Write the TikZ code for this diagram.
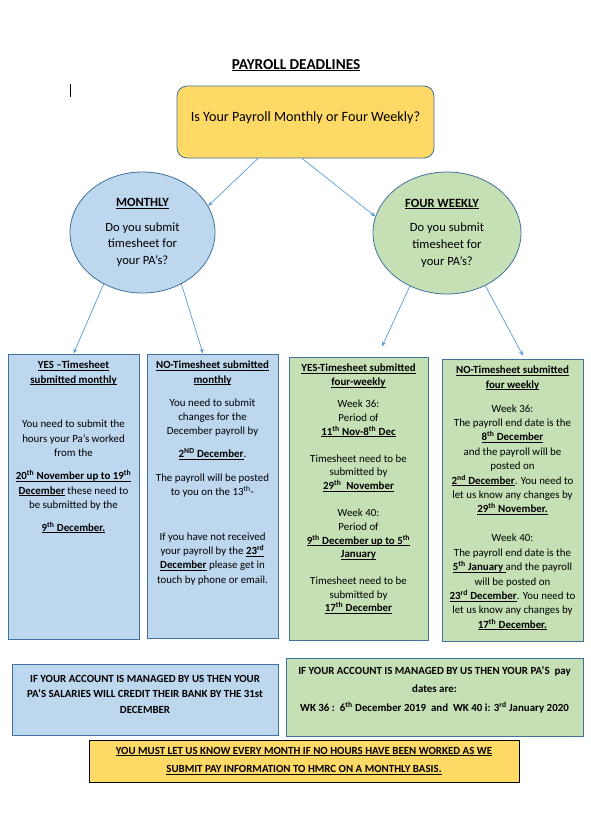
\documentclass[tikz,border=0pt]{standalone}
\usepackage{fontspec}
\setmainfont{Carlito}
\usetikzlibrary{positioning,shapes.geometric,arrows.meta,calc}
\definecolor{qyellow}{HTML}{FFD966}
\definecolor{mblue}{HTML}{BDD7EE}
\definecolor{wgreen}{HTML}{C5E0B4}
\definecolor{edgeblue}{HTML}{41719C}
\definecolor{arrowblue}{HTML}{5B9BD5}
\newcommand{\uln}[1]{\leavevmode\setbox0\hbox{#1}\rlap{\rule[-1.7pt]{\wd0}{0.65pt}}\box0}
\newcommand{\ubf}[1]{\textbf{\uln{#1}}}
\newcommand{\supt}[1]{\textsuperscript{#1}}

\begin{document}
\begin{tikzpicture}[x=1pt,y=-1pt]
	\tikzset{
		box/.style={draw=edgeblue, line width=0.8pt, inner sep=0pt},
		boxtxt/.style={anchor=north, align=center, inner sep=0pt, font=\fontsize{10.9}{14.4}\selectfont},
		bubble/.style={box, ellipse, align=center, font=\fontsize{12.6}{16.7}\selectfont},
		conn/.style={draw=arrowblue, line width=0.7pt, -{Stealth[length=5pt,width=4pt]}}
	}
	\useasboundingbox[fill=white] (0,0) rectangle (590,817);

	% --- Título y pregunta ---
	\node[inner sep=0pt, font=\fontsize{15.2}{18}\selectfont] (title) at (296,65) {\ubf{PAYROLL DEADLINES}};
	\draw[line width=1pt] (70,84) -- (70,97);
	\node[box, fill=qyellow, rounded corners=10pt, minimum width=257, minimum height=72] (question) at (305.5,122) {};
	\node[inner sep=0pt, font=\fontsize{14.2}{17}\selectfont] (questiontxt) at (305.5,118) {Is Your Payroll Monthly or Four Weekly?};

	% --- Elipses ---
	\node[bubble, fill=mblue, minimum width=145, minimum height=121] (monthly) at (142.5,232.5)
		{\ubf{MONTHLY}\\[8pt] Do you submit\\ timesheet for\\ your PA’s?};
	\node[bubble, fill=wgreen, minimum width=148, minimum height=122] (fourweekly) at (447,233)
		{\ubf{FOUR WEEKLY}\hspace*{10pt}\\[8pt] Do you submit\\ timesheet for\\ your PA’s?};

	% --- Cajas ---
	\node[box, fill=mblue, minimum width=131, minimum height=285] (yesmonth) at (73.5,496.5) {};
	\node[box, fill=mblue, minimum width=131, minimum height=284] (nomonth) at (212.5,496) {};
	\node[box, fill=wgreen, minimum width=139, minimum height=283] (yesfour) at (358.5,498.5) {};
	\node[box, fill=wgreen, minimum width=141, minimum height=282] (nofour) at (512.5,500) {};

	\node[boxtxt] (yesmonthtxt) at (73.5,361) {%
		\ubf{YES –Timesheet}\\
		\ubf{submitted monthly}\\[30pt]
		You need to submit the\\
		hours your Pa’s worked\\
		from the\\[9pt]
		\ubf{20\supt{th} November up to 19\supt{th}}\\
		\ubf{December} these need to\\
		be submitted by the\\[8pt]
		\ubf{9\supt{th} December.}};
	\node[boxtxt] (nomonthtxt) at (212.5,361) {%
		\ubf{NO-Timesheet submitted}\\
		\ubf{monthly}\\[8.5pt]
		You need to submit\\
		changes for the\\
		December payroll by\\[8.5pt]
		\ubf{2\supt{ND} December}.\\[9pt]
		The payroll will be posted\\
		to you on the 13\supt{th}-\\[30pt]
		If you have not received\\
		your payroll by the \ubf{23\supt{rd}}\\
		\ubf{December} please get in\\
		touch by phone or email.};
	\node[boxtxt, font=\fontsize{10.9}{13.8}\selectfont] (yesfourtxt) at (358.5,364) {%
		\ubf{YES-Timesheet submitted}\\
		\ubf{four-weekly}\\[8.3pt]
		Week 36:\\
		Period of\hspace*{21pt}\\
		\ubf{11\supt{th} Nov-8\supt{th} Dec}\\[13pt]
		Timesheet need to be\\
		submitted by\\
		\ubf{29\supt{th}\ \ November}\\[13pt]
		Week 40:\\
		Period of\hspace*{21pt}\\
		\ubf{9\supt{th} December up to 5\supt{th}}\\
		\ubf{January}\\[12.5pt]
		Timesheet need to be\\
		submitted by\\
		\ubf{17\supt{th} December}};
	\node[boxtxt] (nofourtxt) at (512.5,366) {%
		\ubf{NO-Timesheet submitted}\\
		\ubf{four weekly}\\[9.5pt]
		Week 36:\\
		The payroll end date is the\\
		\ubf{8\supt{th} December}\\
		and the payroll will be\\
		posted on\\
		\ubf{2\supt{nd} December}. You need to\\
		let us know any changes by\\
		\ubf{29\supt{th} November.}\\[14.6pt]
		Week 40:\\
		The payroll end date is the\\
		\ubf{5\supt{th} January }and the payroll\\
		will be posted on\\
		\ubf{23\supt{rd} December}. You need to\\
		let us know any changes by\\
		\ubf{17\supt{th} December.}};

	% --- Notas inferiores ---
	\node[box, fill=mblue, minimum width=266, minimum height=71] (salaries) at (145,699.5) {};
	\node[boxtxt, font=\bfseries\fontsize{10.9}{15.5}\selectfont] (salariestxt) at (145,675) {%
		IF YOUR ACCOUNT IS MANAGED BY US THEN YOUR\\
		PA’S SALARIES WILL CREDIT THEIR BANK BY THE 31st\\
		DECEMBER};
	\node[box, fill=wgreen, minimum width=297, minimum height=78] (paydates) at (434.5,697) {};
	\node[boxtxt, font=\bfseries\fontsize{10.9}{18}\selectfont] (paydatestxt) at (434.5,666) {%
		IF YOUR ACCOUNT IS MANAGED BY US THEN YOUR PA’S\ \ pay\\
		dates are:\\[1pt]
		WK 36 :\ \ 6\supt{th} December 2019\ \ and\ \ WK 40 i: 3\supt{rd} January 2020};
	\node[draw=black, line width=0.9pt, fill=qyellow, inner sep=0pt, minimum width=430, minimum height=42] (hmrc) at (304,761) {};
	\node[boxtxt, font=\fontsize{10.9}{18.3}\selectfont] (hmrctxt) at (304,747) {%
		\ubf{YOU MUST LET US KNOW EVERY MONTH IF NO HOURS HAVE BEEN WORKED AS WE}\\
		\ubf{SUBMIT PAY INFORMATION TO HMRC ON A MONTHLY BASIS.}};

	% --- Flechas ---
	\draw[conn] ($(question.south)+(-47.5,0)$) -- (monthly.22);
	\draw[conn] ($(question.south)+(-3.5,0)$) -- (fourweekly.167);
	\draw[conn] (monthly.-127) -- (yesmonth.north);
	\draw[conn] (monthly.-53) -- ($(nomonth.north)+(-9.5,0)$);
	\draw[conn] (fourweekly.-125) -- ($(yesfour.north)+(23.5,-10)$);
	\draw[conn] (fourweekly.-54) -- ($(nofour.north)+(10.5,-3)$);
\end{tikzpicture}
\end{document}
